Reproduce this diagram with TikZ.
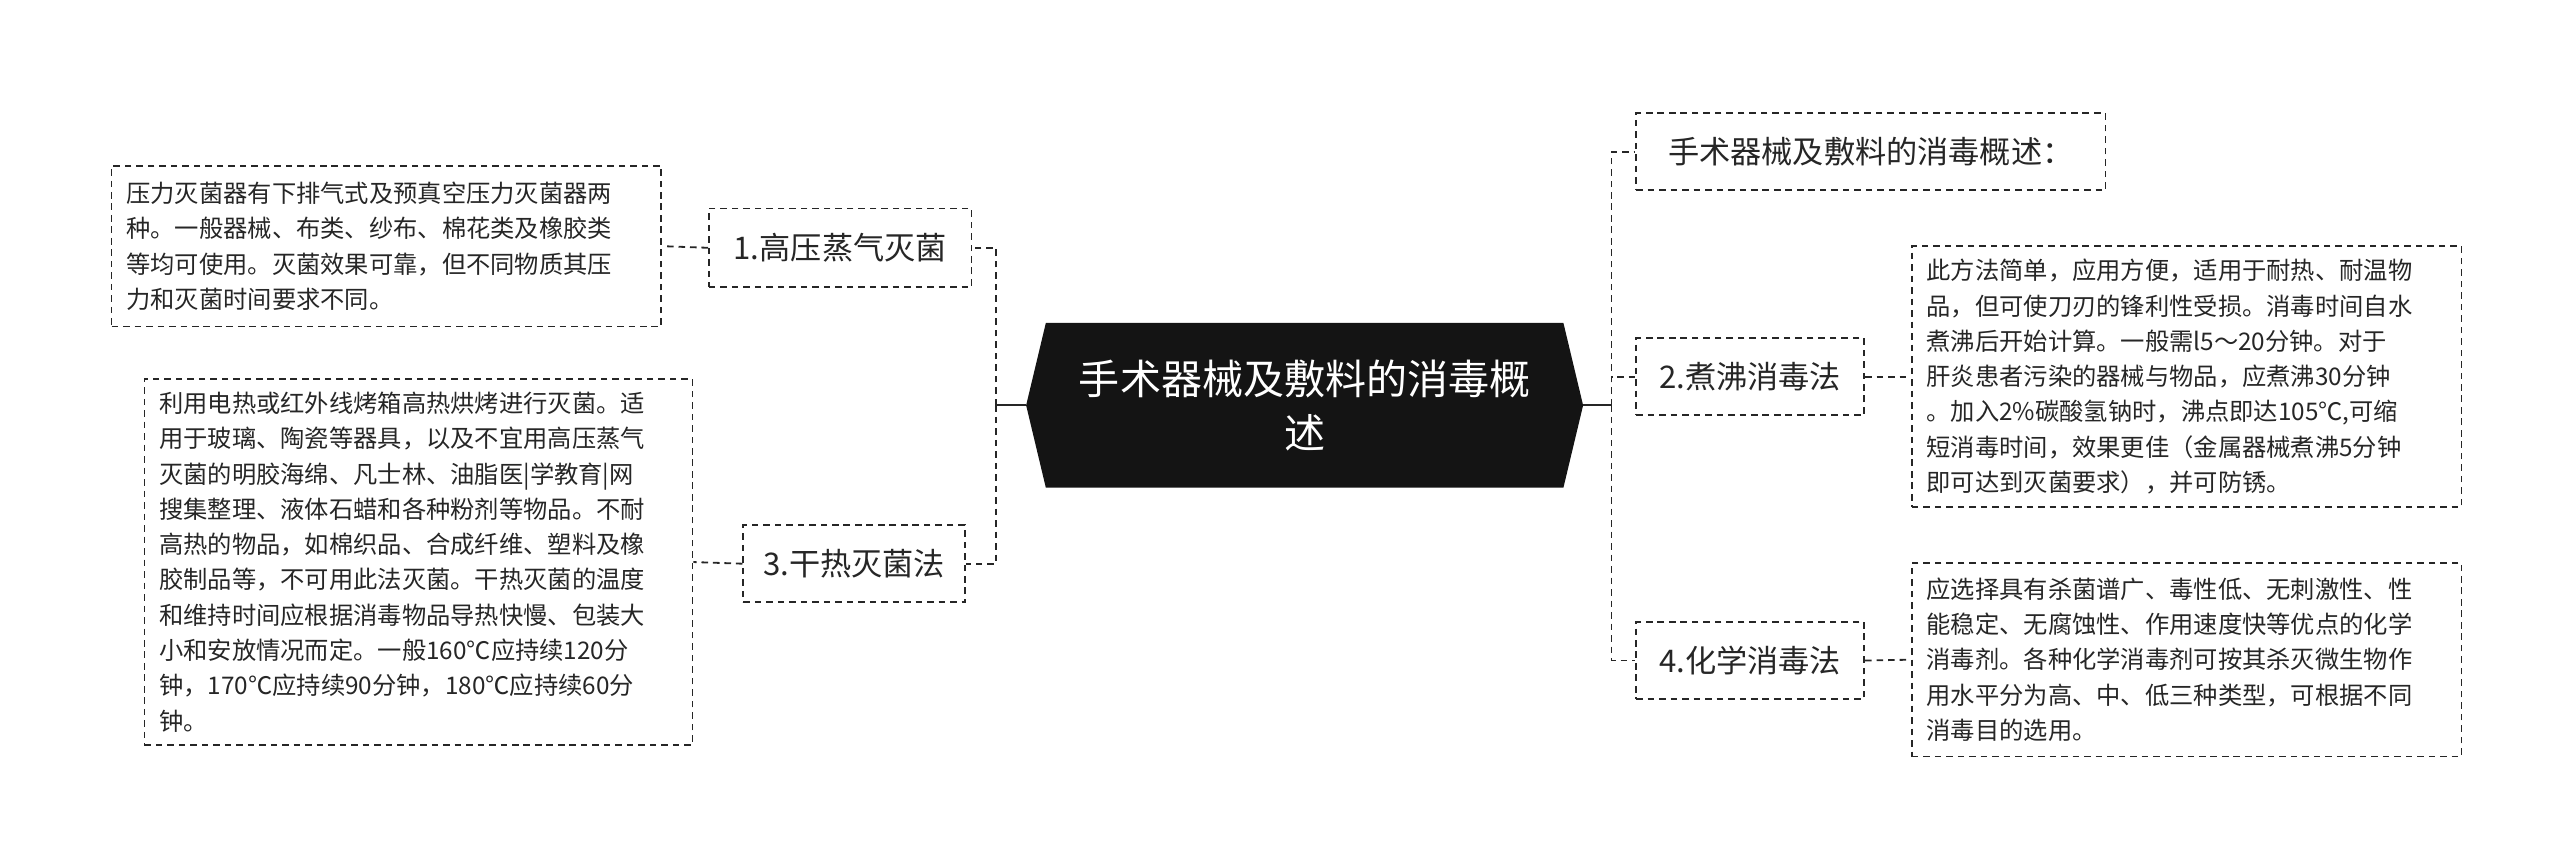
\documentclass[tikz,border=0pt]{standalone}
\usepackage{fontspec}
\setmainfont{Noto Sans CJK SC}
\usetikzlibrary{calc}
\begin{document}
\begin{tikzpicture}[x=1pt,y=-1pt,
  dsh/.style={draw=black!85,line width=1.1pt,dash pattern=on 4pt off 3pt},
  leaf/.style={dsh,inner sep=0pt,align=left,font=\fontsize{14.8}{21.5}\selectfont,text=black!85},
  br/.style={dsh,inner sep=0pt,align=center,font=\fontsize{19}{23}\selectfont,text=black!85}]
\useasboundingbox (0,0) rectangle (1560,527);
\node[minimum width=335pt,minimum height=100pt,inner sep=0pt] (c) at (795,247) {};
\fill[black!92] ($(c.north west)+(10,0)$) -- ($(c.north east)+(-10,0)$) -- ($(c.east)+(2,0)$) -- ($(c.south east)+(-10,0)$) -- ($(c.south west)+(10,0)$) -- ($(c.west)+(-2,0)$) -- cycle;
\node[text=white,align=center,font=\fontsize{25}{33}\selectfont] at (c) {手术器械及敷料的消毒概\\述};
% left branches
\node[br,minimum width=160pt,minimum height=48pt] (b1) at (512,151) {1.高压蒸气灭菌};
\node[br,minimum width=135pt,minimum height=47pt] (b3) at (520.5,343.5) {3.干热灭菌法};
\node[leaf,minimum width=335pt,text width=317pt,minimum height=98pt] (l1) at (235.5,150) {压力灭菌器有下排气式及预真空压力灭菌器两\\种。一般器械、布类、纱布、棉花类及橡胶类\\等均可使用。灭菌效果可靠，但不同物质其压\\力和灭菌时间要求不同。};
\node[leaf,minimum width=334pt,text width=316pt,minimum height=223pt] (l3) at (255,342.5) {利用电热或红外线烤箱高热烘烤进行灭菌。适\\用于玻璃、陶瓷等器具，以及不宜用高压蒸气\\灭菌的明胶海绵、凡士林、油脂医|学教育|网\\搜集整理、液体石蜡和各种粉剂等物品。不耐\\高热的物品，如棉织品、合成纤维、塑料及橡\\胶制品等，不可用此法灭菌。干热灭菌的温度\\和维持时间应根据消毒物品导热快慢、包装大\\小和安放情况而定。一般160℃应持续120分\\钟，170℃应持续90分钟，180℃应持续60分\\钟。};
% right branches
\node[br,minimum width=286pt,minimum height=47pt] (b0) at (1140,92.5) {手术器械及敷料的消毒概述：};
\node[br,minimum width=139pt,minimum height=47pt] (b2) at (1066.5,229.5) {2.煮沸消毒法};
\node[br,minimum width=139pt,minimum height=47pt] (b4) at (1066.5,402.5) {4.化学消毒法};
\node[leaf,minimum width=335pt,text width=317pt,minimum height=159pt] (l2) at (1332.5,229.5) {此方法简单，应用方便，适用于耐热、耐温物\\品，但可使刀刃的锋利性受损。消毒时间自水\\煮沸后开始计算。一般需l5～20分钟。对于\\肝炎患者污染的器械与物品，应煮沸30分钟\\。加入2\%碳酸氢钠时，沸点即达105℃,可缩\\短消毒时间，效果更佳（金属器械煮沸5分钟\\即可达到灭菌要求），并可防锈。};
\node[leaf,minimum width=335pt,text width=317pt,minimum height=118pt] (l4) at (1332.5,402) {应选择具有杀菌谱广、毒性低、无刺激性、性\\能稳定、无腐蚀性、作用速度快等优点的化学\\消毒剂。各种化学消毒剂可按其杀灭微生物作\\用水平分为高、中、低三种类型，可根据不同\\消毒目的选用。};
% connectors
\coordinate (sl) at (607,247);
\coordinate (sr) at (982,247);
\draw[line width=1.3pt,black!85] ($(c.west)+(-2,0)$) -- (sl);
\draw[line width=1.3pt,black!85] ($(c.east)+(2,0)$) -- (sr);
\draw[dsh] (sl) |- (b1.east);
\draw[dsh] (sl) |- (b3.east);
\draw[dsh] (sr) |- (b0.west);
\draw[dsh] (sr) |- (b2.west);
\draw[dsh] (sr) |- (b4.west);
\draw[dsh] (b1.west) -- (l1.east);
\draw[dsh] (b3.west) -- (l3.east);
\draw[dsh] (b2.east) -- (l2.west);
\draw[dsh] (b4.east) -- (l4.west);
\end{tikzpicture}
\end{document}
